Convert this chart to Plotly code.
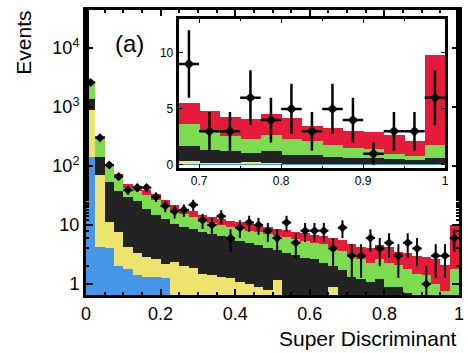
import numpy as np
import plotly.graph_objects as go

# 40 bins of width 0.025 on the discriminant output
bin_width = 0.025
n_bins = 40
bin_centers = [(i + 0.5) * bin_width for i in range(n_bins)]

# Stacked background components (events per bin)
blue = [140, 4.3, 4.0, 2.0, 1.8, 1.4, 1.3, 1.3, 1.25, 0.5,
        0.3, 0.3, 0.2, 0.2, 0.15, 0.15, 0.1, 0.08, 0.08, 0.08,
        0.08, 0.08, 0.08, 0.08, 0.08, 0.08, 0.08, 0.08, 0.08, 0.08,
        0.08, 0.08, 0.08, 0.08, 0.08, 0.08, 0.08, 0.08, 0.08, 0.08]
yellow = [750, 66, 7.4, 5.5, 2.5, 2.0, 1.6, 1.3, 0.95, 1.9,
          1.7, 1.6, 1.3, 1.2, 1.15, 1.1, 1.0, 0.92, 0.82, 0.72,
          1.07, 0.42, 0.27, 0.27, 0.22, 0.22, 0.82, 0.22, 0.12, 0.07,
          0.17, 0.07, 0.04, 0.04, 0.04, 0.04, 0.04, 0.04, 0.04, 0.04]
black = [480, 70, 42.6, 29.5, 25.7, 21.6, 15.6, 12.4, 10.3, 8.1,
         7.3, 6.6, 6.2, 5.6, 5.1, 4.65, 4.3, 3.9, 3.6, 3.3,
         2.55, 2.9, 2.75, 2.45, 2.3, 2.0, 1.15, 1.4, 1.1, 1.05,
         0.85, 1.05, 0.78, 0.78, 0.58, 0.53, 0.48, 0.38, 0.33, 0.53]
green = [1280, 166, 46, 28, 13, 13, 13.5, 12, 9, 7,
         6, 5.1, 4.3, 3.8, 3.5, 3.3, 3.2, 3.1, 3.0, 3.0,
         2.9, 2.8, 2.7, 2.6, 2.4, 2.4, 2.15, 1.9, 1.7, 1.4,
         1.2, 1.5, 1.4, 1.2, 1.1, 0.85, 0.8, 0.5, 0.3, 1.15]
red = [70, 14, 8, 7, 6, 7, 7, 7, 4.5, 4.5,
       3.7, 3.4, 3.0, 2.7, 2.6, 2.6, 2.6, 2.4, 2.4, 2.2,
       2.0, 1.9, 1.8, 1.8, 1.8, 1.7, 1.8, 1.9, 1.8, 1.7,
       1.8, 1.8, 1.9, 1.4, 1.5, 1.5, 1.5, 1.7, 1.35, 8.0]

# Observed events per bin
observed = [2600, 300, 104, 66, 39, 43, 43, 30, 21, 17,
            18, 22, 12, 10, 14, 6, 9, 11, 10, 8,
            6, 11, 5, 8, 8, 8, 4, 9, 3, 3,
            6, 4, 5, 3, 5, 4, 1, 3, 3, 6]

# Inset shows the high-discriminant tail
inset_first_bin = 27

components = [
    ("blue", blue, "#4596e8"),
    ("yellow", yellow, "#ece46e"),
    ("black", black, "#232323"),
    ("green", green, "#7ddb4f"),
    ("red", red, "#e61a3a"),
]

font_family = "Liberation Sans, Arial, Helvetica, sans-serif"

fig = go.Figure()

for name, vals, col in components:
    fig.add_trace(go.Bar(
        x=bin_centers, y=vals, width=bin_width, name=name,
        marker=dict(color=col, line=dict(width=0)),
        xaxis="x", yaxis="y", showlegend=False,
    ))

obs_err = [np.sqrt(v) for v in observed]
fig.add_trace(go.Scatter(
    x=bin_centers, y=observed, mode="markers",
    marker=dict(symbol="diamond", size=7, color="black"),
    error_x=dict(type="constant", value=bin_width / 2, thickness=2, width=0, color="black"),
    error_y=dict(type="data", array=obs_err, thickness=2, width=0, color="black"),
    xaxis="x", yaxis="y", showlegend=False,
))

# Inset (linear scale)
sl = slice(inset_first_bin, n_bins)
for name, vals, col in components:
    fig.add_trace(go.Bar(
        x=bin_centers[sl], y=vals[sl], width=bin_width, name=name,
        marker=dict(color=col, line=dict(width=0)),
        xaxis="x2", yaxis="y2", showlegend=False,
    ))
fig.add_trace(go.Scatter(
    x=bin_centers[sl], y=observed[sl], mode="markers",
    marker=dict(symbol="diamond", size=8, color="black"),
    error_x=dict(type="constant", value=bin_width / 2, thickness=2.5, width=0, color="black"),
    error_y=dict(type="data", array=obs_err[sl], thickness=2.5, width=0, color="black"),
    xaxis="x2", yaxis="y2", showlegend=False,
))

axis_common = dict(showline=True, linecolor="black", mirror="ticks",
                   ticks="inside", tickcolor="black", showgrid=False, zeroline=False)

fig.update_layout(
    width=468, height=353,
    margin=dict(l=86, r=5, t=10, b=58),
    paper_bgcolor="white", plot_bgcolor="white",
    barmode="stack", bargap=0,
    font=dict(family=font_family, color="black"),
    xaxis=dict(domain=[0, 1], range=[0, 1], linewidth=3,
               tickvals=[0, 0.2, 0.4, 0.6, 0.8, 1.0],
               ticktext=["0", "0.2", "0.4", "0.6", "0.8", "1"],
               ticklen=6, tickwidth=1.5, tickfont=dict(size=18),
               minor=dict(dtick=0.05, ticks="inside", ticklen=3, tickcolor="black", showgrid=False),
               **axis_common),
    yaxis=dict(domain=[0, 1], type="log", range=[np.log10(0.65), np.log10(44000)],
               linewidth=3,
               tickvals=[1, 10, 100, 1000, 10000],
               ticktext=["1", "10", "10<sup>2</sup>", "10<sup>3</sup>", "10<sup>4</sup>"],
               ticklen=7, tickwidth=1.5, tickfont=dict(size=18),
               minor=dict(ticks="inside", ticklen=3, tickcolor="black", showgrid=False),
               **axis_common),
    xaxis2=dict(domain=[0.2485, 0.963], range=[0.675, 1.0], anchor="y2",
                linewidth=3,
                tickvals=[0.7, 0.8, 0.9, 1.0], ticktext=["0.7", "0.8", "0.9", "1"],
                ticklen=4, tickwidth=1, tickfont=dict(size=12),
                minor=dict(dtick=0.05, ticks="inside", ticklen=2, tickcolor="black", showgrid=False),
                **axis_common),
    yaxis2=dict(domain=[0.4456, 0.968], range=[-0.27, 13.0], anchor="x2",
                linewidth=3,
                tickvals=[0, 5, 10], ticktext=["0", "5", "10"],
                ticklen=4, tickwidth=1, tickfont=dict(size=12),
                **axis_common),
    annotations=[
        dict(text="Events", x=-0.17, y=0.884, xref="paper", yref="paper",
             textangle=-90, showarrow=False, font=dict(size=21),
             xanchor="center", yanchor="middle"),
        dict(text="Super Discriminant", x=1.0, y=-0.151, xref="paper", yref="paper",
             showarrow=False, font=dict(size=21), xanchor="right", yanchor="middle"),
        dict(text="(a)", x=0.117, y=0.884, xref="paper", yref="paper",
             showarrow=False, font=dict(size=24), xanchor="center", yanchor="middle"),
    ],
)

fig.write_html("out.html")
